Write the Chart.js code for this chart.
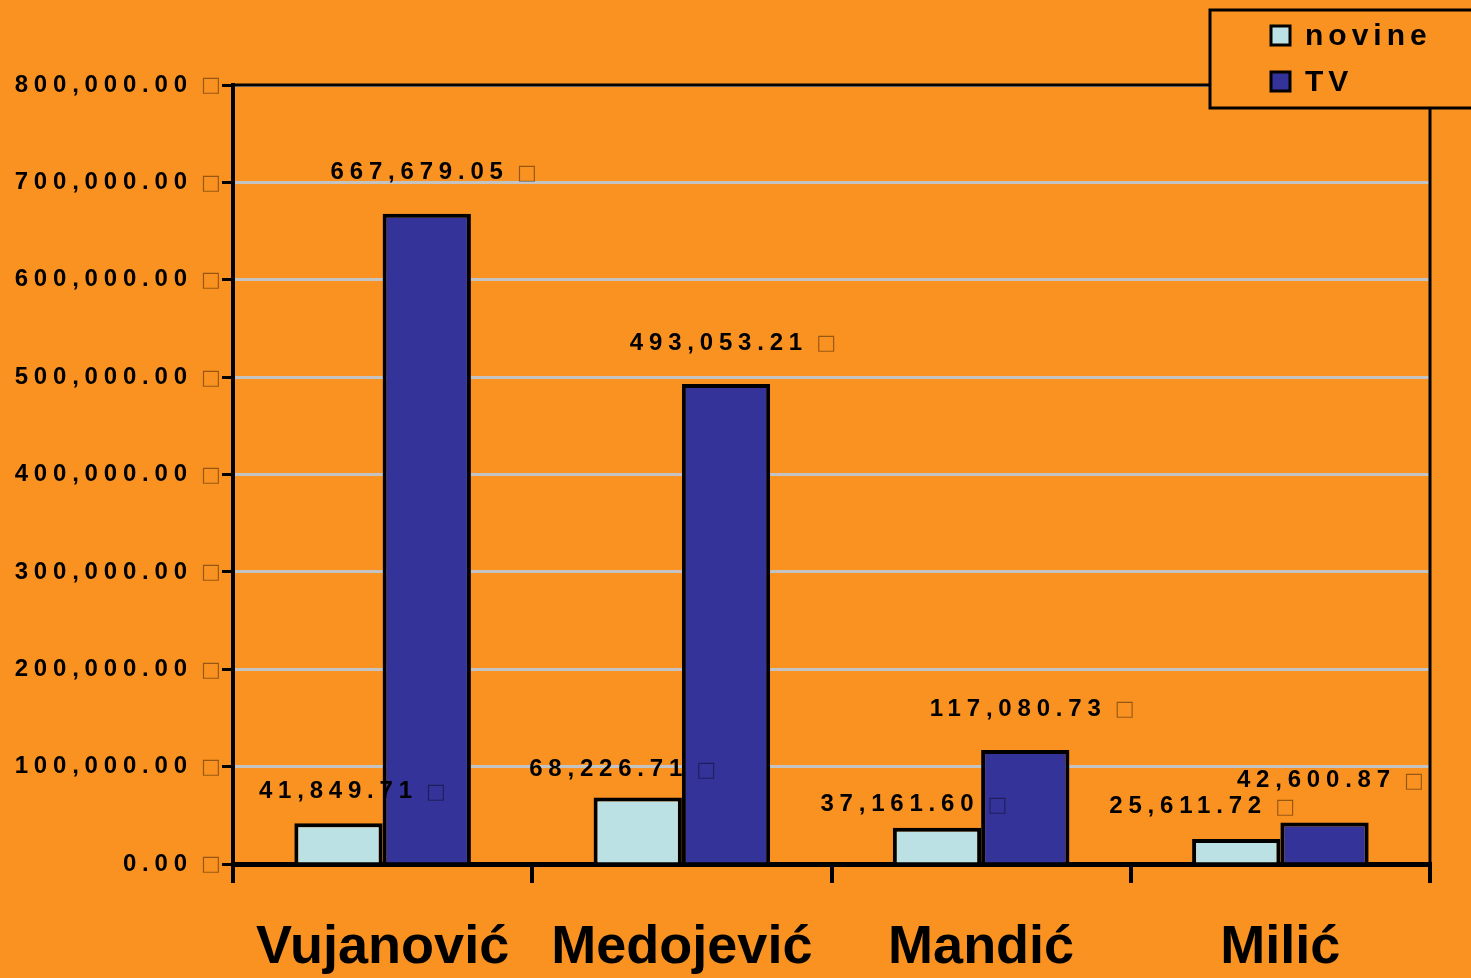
<!DOCTYPE html>
<html>
<head>
<meta charset="utf-8">
<script src="https://cdn.jsdelivr.net/npm/chart.js@4"></script>
<style>
  html, body { margin: 0; background: #F99221; }
  #contenedor { width: 1471px; height: 978px; }
</style>
</head>
<body>
<div id="contenedor"><canvas id="grafico"></canvas></div>
<script>
// Datos
const candidatos = ['Vujanović', 'Medojević', 'Mandić', 'Milić'];
const novine = [41849.71, 68226.71, 37161.60, 25611.72];
const tv = [667679.05, 493053.21, 117080.73, 42600.87];
const ejeMin = 0;
const ejeMax = 800000;
const ejePaso = 100000;

// Ajustes de posicion de las etiquetas (relativos a la barra)
const ajusteNovine = { dx: [11, -18, -26, -37], dy: [32, 28, 23, 33] };
const ajusteTv = { dx: [4, 4, 4, 3], dy: [41, 41, 41, 42] };

const FUENTE = '"Liberation Sans", Arial, sans-serif';
const TOFU = '\u25A1';
const ESPACIO = 5.8;

const formato = (v) => v.toLocaleString('en-US', { minimumFractionDigits: 2, maximumFractionDigits: 2 });

const anchoNumero = (ctx, texto) => {
  ctx.save();
  ctx.font = 'bold 24px ' + FUENTE;
  ctx.letterSpacing = ESPACIO + 'px';
  const w = ctx.measureText(texto).width - ESPACIO;
  ctx.restore();
  return w;
};

// Dibuja numero + simbolo (tofu) empezando en x
const dibujarConTofu = (ctx, texto, x, y) => {
  const ancho = anchoNumero(ctx, texto);
  ctx.save();
  ctx.font = 'bold 24px ' + FUENTE;
  ctx.letterSpacing = ESPACIO + 'px';
  ctx.textAlign = 'left';
  ctx.textBaseline = 'middle';
  ctx.fillStyle = '#000';
  ctx.fillText(texto, x, y);
  ctx.letterSpacing = '0px';
  ctx.font = '21px "DejaVu Sans"';
  ctx.fillStyle = 'rgba(0,0,0,0.4)';
  ctx.fillText(TOFU, x + ancho + 14, y + 1);
  ctx.restore();
};

const pluginExtras = {
  id: 'extras',
  afterDraw(chart) {
    const ctx = chart.ctx;
    const area = chart.chartArea;
    const escalaY = chart.scales.y;

    // Etiquetas del eje Y
    escalaY.ticks.forEach(t => {
      const y = escalaY.getPixelForValue(t.value);
      const texto = formato(t.value);
      dibujarConTofu(ctx, texto, 187 - anchoNumero(ctx, texto), y);
    });

    // Borde superior y derecho del area
    ctx.save();
    ctx.strokeStyle = '#000';
    ctx.lineWidth = 3;
    ctx.beginPath();
    ctx.moveTo(area.left, area.top);
    ctx.lineTo(area.right, area.top);
    ctx.lineTo(area.right, area.bottom + 19);
    ctx.stroke();
    ctx.restore();

    // Etiquetas de valores
    chart.data.datasets.forEach((ds, i) => {
      const ajuste = i === 0 ? ajusteNovine : ajusteTv;
      chart.getDatasetMeta(i).data.forEach((bar, j) => {
        const texto = formato(ds.data[j]);
        const w = anchoNumero(ctx, texto) + 14 + 14;
        const cx = bar.x + ajuste.dx[j];
        dibujarConTofu(ctx, texto, cx - w / 2, bar.y - ajuste.dy[j]);
      });
    });

    // Leyenda
    ctx.save();
    ctx.fillStyle = '#F99221';
    ctx.strokeStyle = '#000';
    ctx.lineWidth = 3;
    ctx.fillRect(1210, 10, 270, 98);
    ctx.strokeRect(1210, 10, 270, 98);
    chart.data.datasets.forEach((ds, i) => {
      const y = 36 + i * 46;
      ctx.fillStyle = ds.backgroundColor;
      ctx.fillRect(1271, y - 10, 19, 19);
      ctx.strokeRect(1271, y - 10, 19, 19);
      ctx.fillStyle = '#000';
      ctx.font = 'bold 30px ' + FUENTE;
      ctx.letterSpacing = '5px';
      ctx.textBaseline = 'middle';
      ctx.fillText(ds.label, 1305, y + 1);
    });
    ctx.restore();
  }
};

new Chart(document.querySelector('#grafico'), {
  type: 'bar',
  data: {
    labels: candidatos,
    datasets: [
      {
        label: 'novine',
        data: novine,
        backgroundColor: '#BCE1E4',
        borderColor: '#000',
        borderWidth: 4,
        borderSkipped: 'bottom',
        barPercentage: 1,
        categoryPercentage: 0.59
      },
      {
        label: 'TV',
        data: tv,
        backgroundColor: '#333399',
        borderColor: '#000',
        borderWidth: 4,
        borderSkipped: 'bottom',
        barPercentage: 1,
        categoryPercentage: 0.59
      }
    ]
  },
  options: {
    responsive: true,
    maintainAspectRatio: false,
    animation: false,
    layout: { padding: { top: 85, right: 41, left: 0, bottom: 0 } },
    plugins: {
      legend: { display: false },
      tooltip: { enabled: false }
    },
    scales: {
      x: {
        grid: {
          offset: true,
          drawOnChartArea: false,
          drawTicks: true,
          tickLength: 19,
          color: '#000',
          lineWidth: 4
        },
        border: { display: true, color: '#000', width: 5 },
        ticks: {
          color: '#000',
          font: { family: FUENTE, size: 54, weight: 'bold' },
          padding: 33
        },
        afterFit(scale) { scale.height = 114; }
      },
      y: {
        min: ejeMin,
        max: ejeMax,
        ticks: { display: false, stepSize: ejePaso },
        grid: {
          color: '#C3C3C3',
          lineWidth: 3,
          drawTicks: true,
          tickLength: 11,
          tickColor: '#000',
          tickWidth: 3
        },
        border: { display: true, color: '#000', width: 4 },
        afterFit(scale) { scale.width = 233; }
      }
    }
  },
  plugins: [pluginExtras]
});
</script>
</body>
</html>
